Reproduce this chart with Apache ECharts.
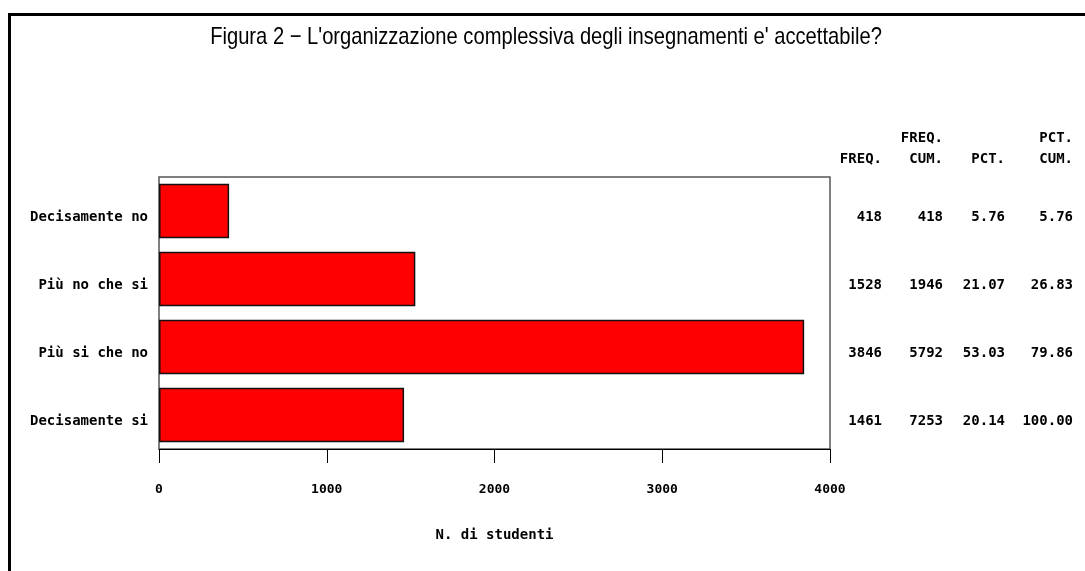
<!DOCTYPE html>
<html>
<head>
<meta charset="utf-8">
<script src="https://cdn.jsdelivr.net/npm/echarts@6/dist/echarts.min.js"></script>
<style>
  html, body { margin: 0; padding: 0; background: #fff; }
  #chart { width: 1085px; height: 571px; }
</style>
</head>
<body>
<div id="chart"></div>
<script>
var categories = ['Decisamente no', 'Più no che si', 'Più si che no', 'Decisamente si'];
var freq = [418, 1528, 3846, 1461];
var freqCum = [418, 1946, 5792, 7253];
var pct = ['5.76', '21.07', '53.03', '20.14'];
var pctCum = ['5.76', '26.83', '79.86', '100.00'];
var xTicks = { min: 0, max: 4000, interval: 1000 };

var mono = 'DejaVu Sans Mono';
var monoFont = 'bold 14px ' + mono;
var chart = echarts.init(document.getElementById('chart'));

// header of the stats table on the right
function head(txt, right, top) {
  return { type: 'text', right: 1085 - right, top: top, style: { text: txt, font: monoFont, fill: '#000', textAlign: 'right' } };
}

function cell(w) {
  return { width: w, align: 'right', fontFamily: mono, fontSize: 14, fontWeight: 'bold', color: '#000', padding: [12, 0, 0, 0] };
}

var option = {
  animation: false,
  backgroundColor: '#fff',
  graphic: [
    {
      type: 'rect',
      shape: { x: 9.5, y: 14.5, width: 1200, height: 700 },
      style: { fill: 'none', stroke: '#000', lineWidth: 3 },
      silent: true
    },
    {
      type: 'text',
      x: 546,
      y: 37,
      scaleX: 0.84,
      style: {
        text: "Figura 2 \u2212 L'organizzazione complessiva degli insegnamenti e' accettabile?",
        font: '24px Liberation Sans, Arial',
        fill: '#000',
        textAlign: 'center',
        textVerticalAlign: 'middle'
      }
    },
    head('FREQ.', 882, 152),
    head('FREQ.', 943, 131),
    head('CUM.', 943, 152),
    head('PCT.', 1005, 152),
    head('PCT.', 1073, 131),
    head('CUM.', 1073, 152)
  ],
  grid: {
    left: 159,
    right: 1085 - 830,
    top: 177,
    height: 272,
    show: true,
    borderColor: '#555',
    borderWidth: 1.5,
    backgroundColor: 'transparent'
  },
  xAxis: {
    type: 'value',
    min: xTicks.min,
    max: xTicks.max,
    interval: xTicks.interval,
    name: 'N. di studenti',
    nameLocation: 'middle',
    nameGap: 79,
    nameTextStyle: { fontFamily: mono, fontSize: 14, fontWeight: 'bold', color: '#000' },
    axisLine: { show: true, lineStyle: { color: '#000', width: 1 } },
    axisTick: { show: true, length: 14, lineStyle: { color: '#000' } },
    axisLabel: {
      margin: 34,
      fontFamily: mono,
      fontSize: 13,
      fontWeight: 'bold',
      color: '#000',
      formatter: function (v) { return String(v); }
    },
    splitLine: { show: false }
  },
  yAxis: [
    {
      type: 'category',
      inverse: true,
      data: categories,
      axisLine: { show: false },
      axisTick: { show: false },
      axisLabel: {
        margin: 11,
        formatter: function (value) { return '{l|' + value + '}'; },
        rich: {
          l: { fontFamily: mono, fontSize: 14, fontWeight: 'bold', color: '#000', padding: [12, 0, 0, 0] }
        }
      }
    },
    {
      type: 'category',
      inverse: true,
      position: 'right',
      data: categories,
      axisLine: { show: false },
      axisTick: { show: false },
      axisLabel: {
        margin: 12,
        formatter: function (value, index) {
          return '{a|' + freq[index] + '}{b|' + freqCum[index] + '}{c|' + pct[index] + '}{d|' + pctCum[index] + '}';
        },
        rich: { a: cell(40), b: cell(61), c: cell(62), d: cell(68) }
      }
    }
  ],
  series: [
    {
      type: 'bar',
      yAxisIndex: 0,
      data: freq,
      barCategoryGap: '20%',
      itemStyle: { color: '#ff0000', borderColor: '#111', borderWidth: 1.5 }
    }
  ]
};

chart.setOption(option);
</script>
</body>
</html>
